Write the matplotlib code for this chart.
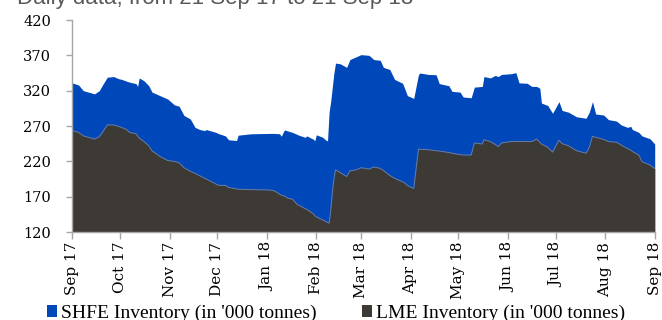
import matplotlib
matplotlib.use("Agg")
import matplotlib.pyplot as plt
import matplotlib.dates as mdates
from matplotlib.patches import Patch
import numpy as np
import pandas as pd

# daily stock readings, '000 tonnes
dates = [
    "2017-09-21", "2017-09-25", "2017-09-28", "2017-10-05", "2017-10-08", "2017-10-10",
    "2017-10-13", "2017-10-17", "2017-10-20", "2017-10-22", "2017-10-25", "2017-10-27",
    "2017-10-31", "2017-11-01", "2017-11-02", "2017-11-05", "2017-11-08", "2017-11-10",
    "2017-11-15", "2017-11-20", "2017-11-24", "2017-11-27", "2017-11-30", "2017-12-04",
    "2017-12-07", "2017-12-10", "2017-12-13", "2017-12-14", "2017-12-20", "2017-12-22",
    "2017-12-26", "2017-12-28", "2018-01-02", "2018-01-03", "2018-01-11", "2018-01-23",
    "2018-01-26", "2018-01-29", "2018-01-30", "2018-02-01", "2018-02-03", "2018-02-06",
    "2018-02-09", "2018-02-10", "2018-02-14", "2018-02-15", "2018-02-18", "2018-02-19",
    "2018-02-20", "2018-02-21", "2018-02-25", "2018-02-27", "2018-02-28", "2018-03-01",
    "2018-03-02", "2018-03-03", "2018-03-04", "2018-03-05", "2018-03-08", "2018-03-12",
    "2018-03-14", "2018-03-18", "2018-03-21", "2018-03-26", "2018-03-29", "2018-04-02",
    "2018-04-04", "2018-04-08", "2018-04-11", "2018-04-16", "2018-04-17", "2018-04-19",
    "2018-04-23", "2018-04-26", "2018-04-27", "2018-05-02", "2018-05-07", "2018-05-09",
    "2018-05-15", "2018-05-17", "2018-05-22", "2018-05-24", "2018-05-29", "2018-05-31",
    "2018-06-05", "2018-06-06", "2018-06-10", "2018-06-13", "2018-06-15", "2018-06-17",
    "2018-06-23", "2018-06-26", "2018-06-28", "2018-07-03", "2018-07-06", "2018-07-09",
    "2018-07-11", "2018-07-12", "2018-07-16", "2018-07-19", "2018-07-23", "2018-07-25",
    "2018-07-29", "2018-08-03", "2018-08-09", "2018-08-11", "2018-08-13", "2018-08-15",
    "2018-08-20", "2018-08-23", "2018-08-28", "2018-08-31", "2018-09-04", "2018-09-06",
    "2018-09-07", "2018-09-11", "2018-09-13", "2018-09-18", "2018-09-21",
]

lme = [
    263.5, 261, 256, 251.5, 255, 261,
    271.5, 271.5, 269.5, 268, 265, 261,
    259, 256, 253, 248, 242, 235,
    227, 221, 220, 218, 211, 206,
    203, 199.5, 196, 195, 188, 186,
    186, 183, 181, 180.5, 180, 179.5,
    178, 173.5, 172, 171, 168, 166.5,
    159, 158, 153, 152, 147.5, 146,
    143, 141.5, 137, 135, 133.5, 132.5,
    150, 175, 195, 208, 204, 198.5,
    206.5, 208, 211, 209, 212, 210,
    207, 200, 196, 191, 190, 186,
    181.5, 237.5, 237, 236.5, 235, 234.5,
    232.5, 231.5, 229.5, 229, 229, 246,
    244.5, 250.5, 248, 244, 241, 246,
    248, 248, 248, 248, 248, 251.5,
    247, 244.5, 240, 233, 250, 245,
    242, 235, 231.5, 240, 255.5, 254,
    251, 248, 247, 243, 238, 236,
    234, 229, 219.5, 215, 210,
]

shfe = [
    67.5, 67, 64, 64, 65, 67,
    67.5, 68.5, 67.5, 68, 68.5, 71,
    71, 70, 85, 86, 85, 83,
    86, 87, 80, 80, 74, 74,
    65, 65.5, 67.5, 70, 73, 73,
    70, 67.5, 68.5, 76.5, 79, 80,
    81.5, 85.5, 83.5, 93.5, 95, 94.5,
    99, 99, 101, 104, 105, 105.5,
    106, 116, 117, 115, 115.5, 157.5,
    155, 150, 150, 151, 154, 154.5,
    157.5, 160, 160, 161, 152, 153,
    146, 150, 140, 139.5, 135, 127,
    127.5, 105.5, 108, 106.5, 107.5, 95.5,
    94.5, 87.5, 88.5, 82, 81, 79,
    81.5, 89.5, 90, 97.5, 99, 97,
    96, 97.5, 83, 82.5, 78, 74.5,
    76.5, 58, 59, 55, 54.5, 47,
    47.5, 48, 49.5, 49.5, 49, 33,
    34.5, 31, 30, 28.5, 30, 33.5,
    31, 32, 36.5, 37, 34.5,
]

series_names = ["SHFE Inventory (in '000 tonnes)", "LME Inventory (in '000 tonnes)"]
colors = ["#0047BA", "#3D3935"]
y_ticks = [120, 170, 220, 270, 320, 370, 420]

x = pd.to_datetime(dates)
lme = np.array(lme)
total = lme + np.array(shfe)

fig = plt.figure(figsize=(6.62, 3.2), dpi=100)
ax = fig.add_axes([0.109, 0.275, 0.880, 0.6625])

# stacked areas: LME at the bottom, SHFE on top of it
ax.fill_between(x, 0, total, color=colors[0], linewidth=0)
ax.fill_between(x, 0, lme, color=colors[1], linewidth=0)
ax.plot(x, lme, color="#6f7d99", linewidth=0.7)

ax.set_ylim(120, 420)
ax.set_yticks(y_ticks)
ax.set_xlim(pd.Timestamp("2017-09-21"), pd.Timestamp("2018-09-21"))
ax.xaxis.set_major_locator(mdates.MonthLocator(bymonthday=21))
ax.xaxis.set_major_formatter(mdates.DateFormatter("%b %y"))

for side in ["top", "right"]:
    ax.spines[side].set_visible(False)
for side in ["left", "bottom"]:
    ax.spines[side].set_color("#a6a6a6")
    ax.spines[side].set_linewidth(1.0)

ax.tick_params(axis="y", colors="#a6a6a6", length=4, width=1, pad=11,
               labelcolor="black", labelsize=10.5)
ax.tick_params(axis="x", colors="#a6a6a6", length=5, width=1, pad=2,
               labelcolor="black", labelsize=11, labelrotation=90)
for lab in ax.get_yticklabels() + ax.get_xticklabels():
    lab.set_fontfamily("DejaVu Serif")

handles = [Patch(facecolor=c, edgecolor="none") for c in colors]
leg = fig.legend(handles, series_names, loc="lower left", bbox_to_anchor=(0.056, -0.037),
                 ncol=2, frameon=False, borderpad=0, handlelength=0.55, handleheight=0.55,
                 handletextpad=0.2, columnspacing=2.3,
                 prop={"family": "Liberation Serif", "size": 14})

fig.text(0.026, 0.9875, "Daily data, from 21 Sep 17 to 21 Sep 18", color="#595959",
         fontsize=16, family="Liberation Sans", va="baseline", ha="left")

fig.savefig("out.png", dpi=100)
